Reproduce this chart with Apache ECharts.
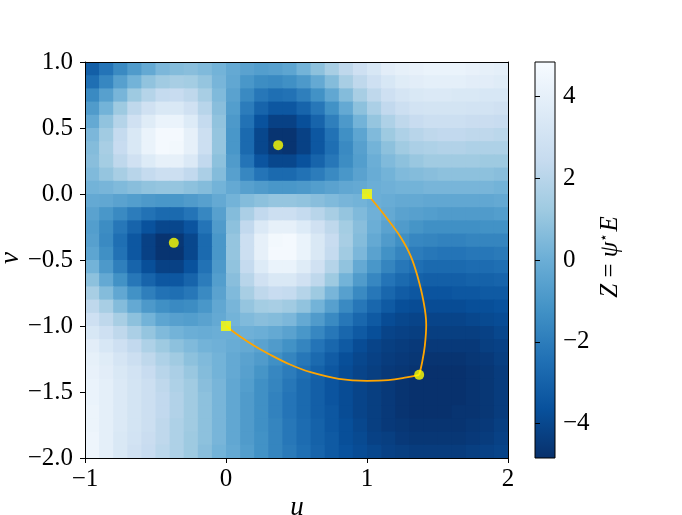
<!DOCTYPE html>
<html>
<head>
<meta charset="utf-8">
<script src="https://cdn.jsdelivr.net/npm/echarts@6/dist/echarts.min.js"></script>
<style>
html,body{margin:0;padding:0;background:#fff;}
#chart{width:682px;height:515px;}
</style>
</head>
<body>
<div id="chart"></div>
<script>
// cell centres
var uCells=[-0.95,-0.85,-0.75,-0.65,-0.55,-0.45,-0.35,-0.25,-0.15,-0.05,
	0.05,0.15,0.25,0.35,0.45,0.55,0.65,0.75,0.85,0.95,
	1.05,1.15,1.25,1.35,1.45,1.55,1.65,1.75,1.85,1.95];
// top to bottom, same order as zRows
var vCells=[0.95,0.85,0.75,0.65,0.55,0.45,0.35,0.25,0.15,0.05,
	-0.05,-0.15,-0.25,-0.35,-0.45,-0.55,-0.65,-0.75,-0.85,-0.95,
	-1.05,-1.15,-1.25,-1.35,-1.45,-1.55,-1.65,-1.75,-1.85,-1.95];
var cellHalf=0.05;
// Z, one row per v cell, top row (v=0.95) first
var zRows=[
	[-3.1,-2.3,-1.5,-0.8,-0.2,0.4,0.6,0.7,0.5,0.2,-0.2,-0.5,-0.7,-0.6,-0.4,0.2,0.8,1.5,2.2,2.8,3.3,3.8,4.0,4.1,4.2,4.2,4.2,4.1,4.0,3.9],
	[-2.5,-1.6,-0.6,0.2,0.9,1.3,1.5,1.4,1.0,0.3,-0.3,-1.0,-1.4,-1.5,-1.3,-0.9,-0.2,0.6,1.5,2.2,2.8,3.3,3.7,3.8,3.9,3.9,3.9,3.8,3.8,3.7],
	[-1.5,-0.6,0.3,1.2,1.9,2.4,2.5,2.2,1.5,0.5,-0.5,-1.5,-2.2,-2.5,-2.4,-1.9,-1.2,-0.3,0.6,1.5,2.2,2.8,3.2,3.4,3.5,3.5,3.4,3.4,3.3,3.3],
	[-0.8,0.2,1.2,2.2,2.9,3.4,3.4,2.9,2.0,0.7,-0.7,-2.0,-2.9,-3.4,-3.4,-2.9,-2.2,-1.2,-0.2,0.8,1.6,2.3,2.7,3.0,3.1,3.1,3.1,3.0,3.0,2.9],
	[-0.2,0.9,1.9,2.9,3.7,4.2,4.2,3.6,2.4,0.9,-0.9,-2.4,-3.6,-4.2,-4.2,-3.7,-2.9,-1.9,-0.9,0.2,1.0,1.7,2.2,2.5,2.7,2.7,2.7,2.6,2.6,2.5],
	[0.4,1.3,2.4,3.4,4.2,4.7,4.7,4.0,2.7,1.0,-1.0,-2.7,-4.0,-4.7,-4.7,-4.2,-3.4,-2.4,-1.3,-0.4,0.5,1.2,1.7,2.0,2.2,2.3,2.3,2.2,2.2,2.1],
	[0.6,1.5,2.5,3.4,4.2,4.7,4.6,4.0,2.7,1.0,-1.0,-2.7,-4.0,-4.6,-4.7,-4.2,-3.4,-2.5,-1.5,-0.6,0.2,0.8,1.3,1.6,1.7,1.8,1.8,1.7,1.7,1.7],
	[0.7,1.4,2.2,2.9,3.6,4.0,4.0,3.5,2.3,0.8,-0.8,-2.3,-3.5,-4.0,-4.0,-3.6,-2.9,-2.2,-1.4,-0.7,0.0,0.5,0.8,1.1,1.3,1.3,1.3,1.3,1.2,1.2],
	[0.5,1.0,1.5,2.0,2.4,2.7,2.7,2.3,1.6,0.6,-0.6,-1.6,-2.3,-2.7,-2.7,-2.4,-2.0,-1.5,-1.0,-0.5,-0.1,0.2,0.5,0.6,0.7,0.8,0.8,0.8,0.8,0.7],
	[0.2,0.3,0.5,0.7,0.9,1.0,1.0,0.8,0.6,0.2,-0.2,-0.6,-0.8,-1.0,-1.0,-0.9,-0.7,-0.5,-0.3,-0.2,0.0,0.1,0.2,0.2,0.3,0.3,0.3,0.3,0.3,0.2],
	[-0.2,-0.3,-0.5,-0.7,-0.9,-1.0,-1.0,-0.8,-0.6,-0.2,0.2,0.6,0.8,1.0,1.0,0.9,0.7,0.5,0.3,0.2,0.0,-0.1,-0.2,-0.2,-0.3,-0.3,-0.3,-0.3,-0.3,-0.2],
	[-0.5,-1.0,-1.5,-2.0,-2.4,-2.7,-2.7,-2.3,-1.6,-0.6,0.6,1.6,2.3,2.7,2.7,2.4,2.0,1.5,1.0,0.5,0.1,-0.2,-0.5,-0.6,-0.7,-0.8,-0.8,-0.8,-0.8,-0.7],
	[-0.7,-1.4,-2.2,-2.9,-3.6,-4.0,-4.0,-3.5,-2.3,-0.8,0.8,2.3,3.5,4.0,4.0,3.6,2.9,2.2,1.4,0.7,0.0,-0.5,-0.8,-1.1,-1.3,-1.3,-1.3,-1.3,-1.2,-1.2],
	[-0.6,-1.5,-2.5,-3.4,-4.2,-4.7,-4.6,-4.0,-2.7,-1.0,1.0,2.7,4.0,4.6,4.7,4.2,3.4,2.5,1.5,0.6,-0.2,-0.8,-1.3,-1.6,-1.7,-1.8,-1.8,-1.7,-1.7,-1.7],
	[-0.4,-1.3,-2.4,-3.4,-4.2,-4.7,-4.7,-4.0,-2.7,-1.0,1.0,2.7,4.0,4.7,4.7,4.2,3.4,2.4,1.3,0.4,-0.5,-1.2,-1.7,-2.0,-2.2,-2.3,-2.3,-2.2,-2.2,-2.1],
	[0.2,-0.9,-1.9,-2.9,-3.7,-4.2,-4.2,-3.6,-2.4,-0.9,0.9,2.4,3.6,4.2,4.2,3.7,2.9,1.9,0.9,-0.2,-1.0,-1.7,-2.2,-2.5,-2.7,-2.7,-2.7,-2.6,-2.6,-2.5],
	[0.8,-0.2,-1.2,-2.2,-2.9,-3.4,-3.4,-2.9,-2.0,-0.7,0.7,2.0,2.9,3.4,3.4,2.9,2.2,1.2,0.2,-0.8,-1.6,-2.3,-2.7,-3.0,-3.1,-3.1,-3.1,-3.0,-3.0,-2.9],
	[1.5,0.6,-0.3,-1.2,-1.9,-2.4,-2.5,-2.2,-1.5,-0.5,0.5,1.5,2.2,2.5,2.4,1.9,1.2,0.3,-0.6,-1.5,-2.2,-2.8,-3.2,-3.4,-3.5,-3.5,-3.4,-3.4,-3.3,-3.3],
	[2.2,1.5,0.6,-0.2,-0.9,-1.3,-1.5,-1.4,-1.0,-0.3,0.3,1.0,1.4,1.5,1.3,0.9,0.2,-0.6,-1.5,-2.2,-2.8,-3.3,-3.7,-3.8,-3.8,-3.8,-3.8,-3.7,-3.7,-3.6],
	[2.8,2.2,1.5,0.8,0.2,-0.4,-0.6,-0.7,-0.5,-0.2,0.2,0.5,0.7,0.6,0.4,-0.2,-0.8,-1.5,-2.2,-2.8,-3.3,-3.8,-4.0,-4.1,-4.1,-4.1,-4.1,-4.0,-3.9,-3.8],
	[3.3,2.8,2.2,1.6,1.0,0.5,0.2,0.0,-0.1,0.0,0.0,0.1,0.0,-0.2,-0.5,-1.0,-1.6,-2.2,-2.8,-3.3,-3.7,-4.1,-4.2,-4.3,-4.3,-4.3,-4.3,-4.3,-4.2,-4.0],
	[3.8,3.3,2.8,2.3,1.7,1.2,0.8,0.5,0.2,0.1,-0.1,-0.2,-0.5,-0.8,-1.2,-1.7,-2.3,-2.8,-3.3,-3.8,-4.1,-4.3,-4.4,-4.5,-4.5,-4.5,-4.5,-4.5,-4.3,-4.2],
	[4.0,3.7,3.2,2.7,2.2,1.7,1.3,0.8,0.5,0.2,-0.2,-0.5,-0.8,-1.3,-1.7,-2.2,-2.7,-3.2,-3.7,-4.0,-4.2,-4.4,-4.5,-4.6,-4.7,-4.7,-4.7,-4.6,-4.5,-4.3],
	[4.1,3.8,3.4,3.0,2.5,2.0,1.6,1.1,0.6,0.2,-0.2,-0.6,-1.1,-1.6,-2.0,-2.5,-3.0,-3.4,-3.8,-4.1,-4.3,-4.5,-4.6,-4.7,-4.8,-4.8,-4.8,-4.7,-4.6,-4.4],
	[4.2,3.9,3.5,3.1,2.7,2.2,1.7,1.3,0.7,0.3,-0.3,-0.7,-1.3,-1.7,-2.2,-2.7,-3.1,-3.5,-3.8,-4.1,-4.3,-4.5,-4.7,-4.8,-4.8,-4.8,-4.8,-4.7,-4.6,-4.4],
	[4.2,3.9,3.5,3.1,2.7,2.3,1.8,1.3,0.8,0.3,-0.3,-0.8,-1.3,-1.8,-2.3,-2.7,-3.1,-3.5,-3.8,-4.1,-4.3,-4.5,-4.7,-4.8,-4.8,-4.8,-4.8,-4.7,-4.6,-4.4],
	[4.3,3.9,3.5,3.1,2.7,2.3,1.8,1.3,0.8,0.3,-0.3,-0.8,-1.3,-1.8,-2.3,-2.7,-3.1,-3.4,-3.8,-4.1,-4.3,-4.5,-4.7,-4.8,-4.8,-4.8,-4.7,-4.7,-4.6,-4.4],
	[4.3,3.9,3.5,3.1,2.7,2.2,1.7,1.3,0.8,0.3,-0.3,-0.8,-1.3,-1.7,-2.2,-2.6,-3.0,-3.4,-3.7,-4.0,-4.3,-4.5,-4.6,-4.7,-4.7,-4.7,-4.7,-4.6,-4.5,-4.3],
	[4.4,3.9,3.4,3.0,2.6,2.2,1.7,1.2,0.8,0.3,-0.3,-0.8,-1.2,-1.7,-2.2,-2.6,-3.0,-3.3,-3.7,-3.9,-4.2,-4.3,-4.5,-4.6,-4.6,-4.6,-4.6,-4.5,-4.4,-4.2],
	[4.4,3.9,3.4,2.9,2.5,2.1,1.7,1.2,0.7,0.2,-0.2,-0.7,-1.2,-1.7,-2.1,-2.5,-2.9,-3.3,-3.6,-3.8,-4.0,-4.2,-4.3,-4.4,-4.4,-4.4,-4.4,-4.3,-4.2,-4.1]
];
var minU=[0.37,-0.37,1.37];
var minV=[0.37,-0.37,-1.37];
var startU=[1,0];
var startV=[0,-1];
var pathA=[[1.0,0.0],[1.08,-0.1],[1.16,-0.21],[1.24,-0.33],[1.31,-0.47],[1.36,-0.63],[1.40,-0.81],[1.42,-0.99],[1.41,-1.15],[1.39,-1.28],[1.37,-1.37]];
var pathB=[[0.0,-1.0],[0.1,-1.08],[0.2,-1.15],[0.3,-1.21],[0.45,-1.29],[0.6,-1.35],[0.8,-1.40],[1.0,-1.415],[1.15,-1.41],[1.28,-1.39],[1.37,-1.37]];
var uTicks=[-1,0,1,2];
var vTicks=[-2,-1.5,-1,-0.5,0,0.5,1];
var zTicks=[-4,-2,0,2,4];
var zMax=4.84;
var blues=['#08306b','#08519c','#2171b5','#4292c6','#6baed6','#9ecae1','#c6dbef','#deebf7','#f7fbff'];

var FONT='Liberation Serif';

function minus(s){
	return String(s).replace('-','\u2212');
}

function cellData(){
	var arr=[];
	for(var r=0;r<zRows.length;r++){
		for(var c=0;c<zRows[r].length;c++){
			arr.push([uCells[c],vCells[r],zRows[r][c]]);
		}
	}
	return arr;
}

function points(us,vs){
	var arr=[];
	for(var i=0;i<us.length;i++){
		arr.push([us[i],vs[i]]);
	}
	return arr;
}

// one rect per cell, a little oversized so neighbours overlap and no seams show
function renderCell(params,api){
	var u=api.value(0),v=api.value(1);
	var p0=api.coord([u-cellHalf,v+cellHalf]);
	var p1=api.coord([u+cellHalf,v-cellHalf]);
	return {
		type:'rect',
		shape:{x:p0[0],y:p0[1],width:p1[0]-p0[0]+0.8,height:p1[1]-p0[1]+0.8},
		style:{fill:api.visual('color')}
	};
}

var stops=[];
for(var k=0;k<blues.length;k++){
	stops.push({offset:k/(blues.length-1),color:blues[blues.length-1-k]});
}

var chart=echarts.init(document.getElementById('chart'),null,{renderer:'canvas'});
var tickLabel={fontFamily:FONT,fontSize:25,color:'#000'};
var blackLine={color:'#000',width:1};

var option={
	animation:false,
	backgroundColor:'#fff',
	grid:[
		{left:85,top:62,width:423,height:396},
		{left:535,top:62,width:20,height:396}
	],
	visualMap:{
		show:false,
		type:'continuous',
		min:-zMax,
		max:zMax,
		dimension:2,
		seriesIndex:0,
		inRange:{color:blues}
	},
	xAxis:[
		{type:'value',gridIndex:0,min:-1,max:2,position:'bottom',z:10,
			axisLine:{show:true,onZero:false,lineStyle:blackLine},
			axisTick:{show:true,length:5,lineStyle:blackLine,customValues:uTicks},
			axisLabel:Object.assign({margin:9,customValues:uTicks,formatter:function(v){return minus(v);}},tickLabel),
			splitLine:{show:false}},
		{type:'value',gridIndex:0,min:-1,max:2,position:'top',z:10,
			axisLine:{show:true,onZero:false,lineStyle:blackLine},
			axisTick:{show:false},axisLabel:{show:false},splitLine:{show:false}},
		{type:'value',gridIndex:1,min:0,max:1,show:false}
	],
	yAxis:[
		{type:'value',gridIndex:0,min:-2,max:1,position:'left',z:10,
			axisLine:{show:true,onZero:false,lineStyle:blackLine},
			axisTick:{show:true,length:5,lineStyle:blackLine,customValues:vTicks},
			axisLabel:Object.assign({margin:12,customValues:vTicks,formatter:function(v){return minus(v.toFixed(1));}},tickLabel),
			splitLine:{show:false}},
		{type:'value',gridIndex:0,min:-2,max:1,position:'right',z:10,
			axisLine:{show:true,onZero:false,lineStyle:blackLine},
			axisTick:{show:false},axisLabel:{show:false},splitLine:{show:false}},
		{type:'value',gridIndex:1,min:-zMax,max:zMax,position:'right',z:10,
			axisLine:{show:false},
			axisTick:{show:true,length:5,lineStyle:blackLine,customValues:zTicks},
			axisLabel:Object.assign({margin:8,customValues:zTicks,formatter:function(v){return minus(v);}},tickLabel),
			splitLine:{show:false}}
	],
	graphic:[
		{type:'rect',shape:{x:535,y:62,width:20,height:396},z:1,
			style:{fill:new echarts.graphic.LinearGradient(0,0,0,1,stops),stroke:'#000',lineWidth:1}},
		{type:'text',x:297,y:508,z:20,
			style:{text:'u',fontFamily:FONT,fontStyle:'italic',fontSize:27,fill:'#000',align:'center',verticalAlign:'middle'}},
		{type:'text',x:11,y:258,rotation:Math.PI/2,z:20,
			style:{text:'v',fontFamily:FONT,fontStyle:'italic',fontSize:27,fill:'#000',align:'center',verticalAlign:'middle'}},
		{type:'text',x:610,y:257,rotation:Math.PI/2,z:20,
			style:{text:'{i|Z} = {i|\u03c8}{s|\u22c6}{i|E}',fontFamily:FONT,fontSize:25,fill:'#000',align:'center',verticalAlign:'middle',
				rich:{
					i:{fontFamily:FONT,fontStyle:'italic',fontSize:25},
					s:{fontFamily:'DejaVu Serif',fontSize:14,verticalAlign:'top',padding:[0,1,12,0]}
				}}}
	],
	series:[
		{type:'custom',xAxisIndex:0,yAxisIndex:0,data:cellData(),renderItem:renderCell,clip:true,
			encode:{x:0,y:1},silent:true,progressive:0},
		{type:'line',xAxisIndex:0,yAxisIndex:0,data:pathA,smooth:0.4,symbol:'none',z:3,
			lineStyle:{color:'#ffa500',width:1.8}},
		{type:'line',xAxisIndex:0,yAxisIndex:0,data:pathB,smooth:0.4,symbol:'none',z:3,
			lineStyle:{color:'#ffa500',width:1.8}},
		{type:'scatter',xAxisIndex:0,yAxisIndex:0,data:points(startU,startV),symbol:'rect',symbolSize:10,z:4,
			itemStyle:{color:'#ffff00'}},
		{type:'scatter',xAxisIndex:0,yAxisIndex:0,data:points(minU,minV),symbol:'circle',symbolSize:10,z:4,
			itemStyle:{color:'#ffff00'}}
	]
};
chart.setOption(option);
</script>
</body>
</html>
